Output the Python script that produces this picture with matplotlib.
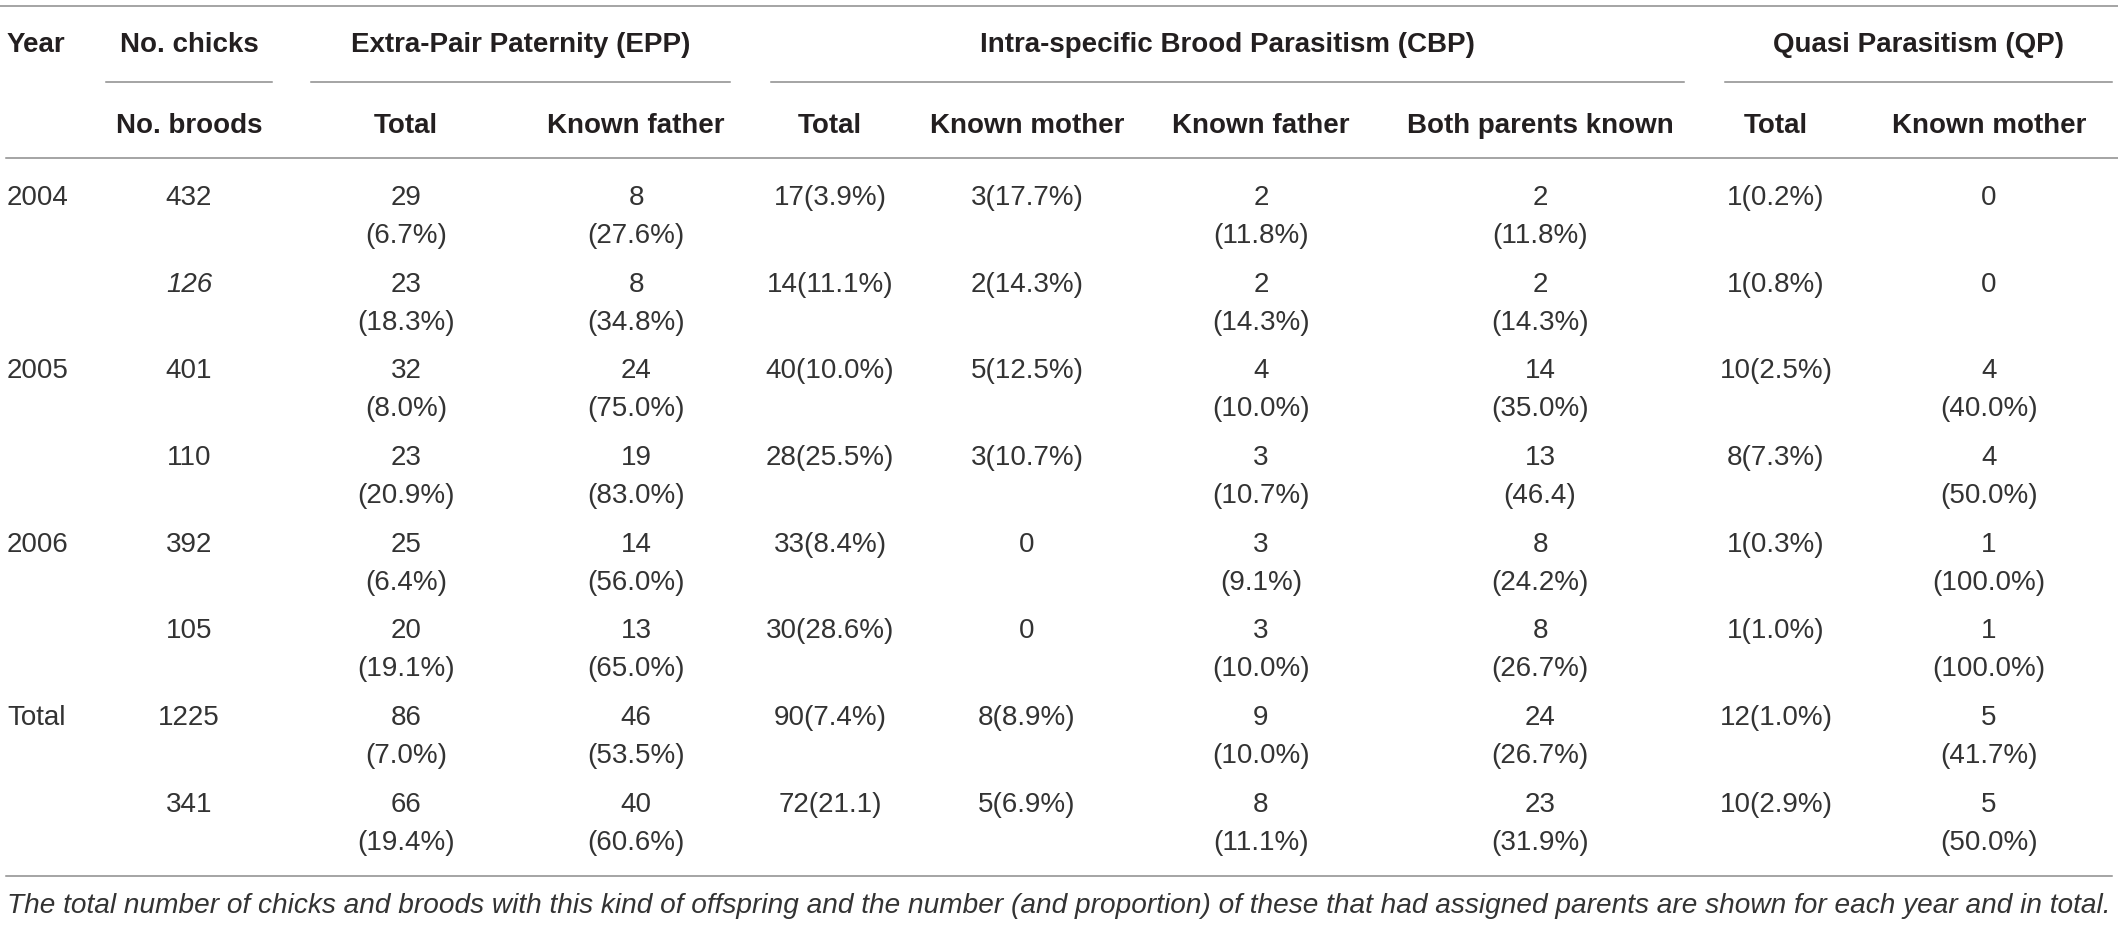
import matplotlib
matplotlib.use("Agg")
import matplotlib.pyplot as plt

plt.rcParams['font.family'] = ['Liberation Sans', 'DejaVu Sans']

# ---- table content ----
group_headers = ["Extra-Pair Paternity (EPP)",
                 "Intra-specific Brood Parasitism (CBP)",
                 "Quasi Parasitism (QP)"]
sub_headers = ["Total", "Known father",
               "Total", "Known mother", "Known father", "Both parents known",
               "Total", "Known mother"]

years = ["2004", "", "2005", "", "2006", "", "Total", ""]
counts = ["432", "126", "401", "110", "392", "105", "1225", "341"]
epp_total = ["29\n(6.7%)", "23\n(18.3%)", "32\n(8.0%)", "23\n(20.9%)",
             "25\n(6.4%)", "20\n(19.1%)", "86\n(7.0%)", "66\n(19.4%)"]
epp_father = ["8\n(27.6%)", "8\n(34.8%)", "24\n(75.0%)", "19\n(83.0%)",
              "14\n(56.0%)", "13\n(65.0%)", "46\n(53.5%)", "40\n(60.6%)"]
cbp_total = ["17(3.9%)", "14(11.1%)", "40(10.0%)", "28(25.5%)",
             "33(8.4%)", "30(28.6%)", "90(7.4%)", "72(21.1)"]
cbp_mother = ["3(17.7%)", "2(14.3%)", "5(12.5%)", "3(10.7%)",
              "0", "0", "8(8.9%)", "5(6.9%)"]
cbp_father = ["2\n(11.8%)", "2\n(14.3%)", "4\n(10.0%)", "3\n(10.7%)",
              "3\n(9.1%)", "3\n(10.0%)", "9\n(10.0%)", "8\n(11.1%)"]
cbp_both = ["2\n(11.8%)", "2\n(14.3%)", "14\n(35.0%)", "13\n(46.4)",
            "8\n(24.2%)", "8\n(26.7%)", "24\n(26.7%)", "23\n(31.9%)"]
qp_total = ["1(0.2%)", "1(0.8%)", "10(2.5%)", "8(7.3%)",
            "1(0.3%)", "1(1.0%)", "12(1.0%)", "10(2.9%)"]
qp_mother = ["0", "0", "4\n(40.0%)", "4\n(50.0%)",
             "1\n(100.0%)", "1\n(100.0%)", "5\n(41.7%)", "5\n(50.0%)"]

caption = ("The total number of chicks and broods with this kind of offspring and the "
           "number (and proportion) of these that had assigned parents are shown for "
           "each year and in total.")

# ---- layout (pixel coordinates, y down) ----
W, H = 2118, 925
fig = plt.figure(figsize=(W / 100, H / 100), dpi=100)
ax = fig.add_axes([0, 0, 1, 1])
ax.set_xlim(0, W)
ax.set_ylim(H, 0)
ax.axis('off')

fs = 20
hdr_col = '#231f20'
txt_col = '#333333'
line_col = '#8c8c8c'
lw = 1.1

col_x = [189, 406, 636, 830, 1027, 1261, 1540, 1776, 1989]
group_span = [(311, 730), (771, 1684), (1725, 2112)]

def put(x, y, s, ha='center', **kw):
    ax.text(x, y, s, ha=ha, va='baseline', fontsize=fs, **kw)

# rules
ax.plot([0, W], [6, 6], color=line_col, lw=lw)
ax.plot([6, W], [158, 158], color=line_col, lw=lw)
ax.plot([6, 2112], [876, 876], color=line_col, lw=lw)
ax.plot([106, 272], [82, 82], color=line_col, lw=lw)

hy1, hy2 = 52, 133
for (x0, x1), g in zip(group_span, group_headers):
    ax.plot([x0, x1], [82, 82], color=line_col, lw=lw)
    put((x0 + x1) / 2, hy1, g, fontweight='bold', color=hdr_col)

put(7, hy1, "Year", ha='left', fontweight='bold', color=hdr_col)
put(col_x[0], hy1, "No. chicks", fontweight='bold', color=hdr_col)
put(col_x[0], hy2, "No. broods", fontweight='bold', color=hdr_col)
for x, s in zip(col_x[1:], sub_headers):
    put(x, hy2, s, fontweight='bold', color=hdr_col)

# body
base0, pitch, gap = 205, 86.7, 38
cols = [counts, epp_total, epp_father, cbp_total, cbp_mother,
        cbp_father, cbp_both, qp_total, qp_mother]
for r in range(len(years)):
    y = base0 + r * pitch
    if years[r]:
        put(7, y, years[r], ha='left', color=txt_col)
    for c, (x, vals) in enumerate(zip(col_x, cols)):
        style = 'italic' if (c == 0 and r == 1) else 'normal'
        for k, s in enumerate(vals[r].split("\n")):
            put(x, y + k * gap, s, color=txt_col, fontstyle=style)

ax.text(7, 913, caption, ha='left', va='baseline', fontsize=20.2,
        fontstyle='italic', color=txt_col)

fig.savefig("out.png", dpi=100)
